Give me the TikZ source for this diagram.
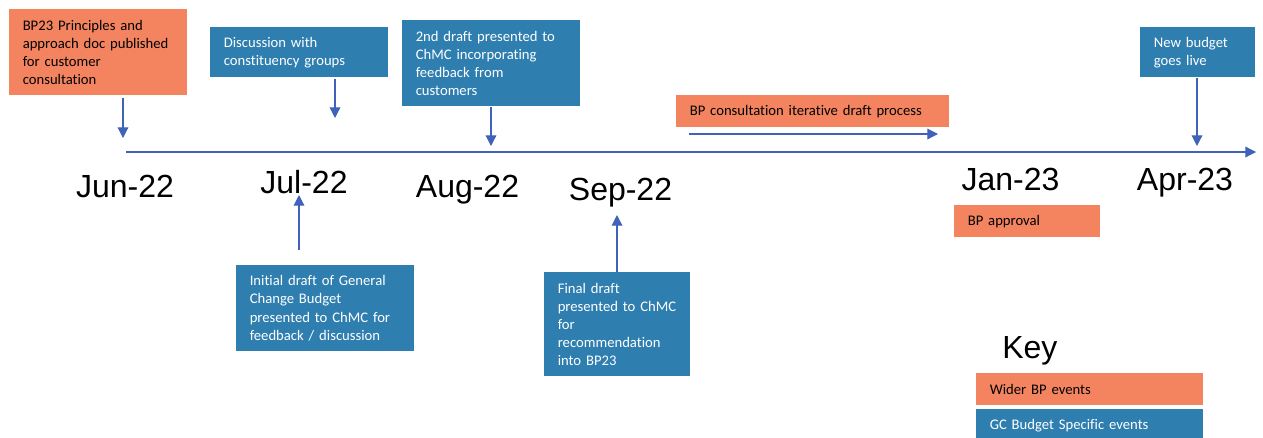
\documentclass[tikz,border=0pt]{standalone}
\usepackage{fontspec}
\setmainfont{Carlito}[Ligatures=CommonOff]
\newfontfamily\arialf{Liberation Sans}
\usetikzlibrary{arrows.meta}
\definecolor{wider}{HTML}{F4845F}
\definecolor{gcblue}{HTML}{2E7EB0}
\definecolor{arrowc}{HTML}{4162B9}
\tikzset{
  evt/.style 2 args={anchor=north west, minimum width=#1, minimum height=#2,
    inner xsep=9.75pt, inner ysep=0pt, align=left, font=\fontsize{11pt}{13.6pt}\selectfont},
  orangebox/.style={fill=wider, text=black},
  bluebox/.style={fill=gcblue, text=white},
  arr/.style={draw=arrowc, line width=0.9pt, -{Triangle[length=8pt,width=8pt]}},
  datelbl/.style={anchor=base, font=\arialf\fontsize{24pt}{28pt}\selectfont, inner sep=0pt},
}
\begin{document}
\begin{tikzpicture}[x=0.75pt, y=-0.75pt]
\useasboundingbox (0,0) rectangle (1263,437);
% timeline
\coordinate (tlstart) at (126,152);
\coordinate (tlend) at (1256,152);
\draw[arr] (tlstart) -- (tlend);
% boxes above
\node[evt={133.5pt}{64.5pt}, orangebox, text width=113.25pt] (bp23) at (9,9)
  {BP23 Principles and\\approach doc published\\for customer\\consultation};
\node[evt={133.5pt}{37.5pt}, bluebox, text width=113.25pt] (disc) at (210,27)
  {Discussion with\\constituency groups};
\node[evt={133.5pt}{64.5pt}, bluebox, text width=113.25pt] (second) at (402,20)
  {2nd draft presented to\\ChMC incorporating\\feedback from\\customers};
\node[evt={204.75pt}{24pt}, orangebox, text width=184.5pt] (cons) at (676,95)
  {BP consultation iterative draft process};
\node[evt={86.25pt}{37.5pt}, bluebox, text width=66pt] (live) at (1140,27)
  {New budget\\goes live};
% boxes below
\node[evt={133.5pt}{64.5pt}, bluebox, text width=113.25pt] (initial) at (236,265)
  {Initial draft of General\\Change Budget\\presented to ChMC for\\feedback / discussion};
\node[evt={109.5pt}{78pt}, bluebox, text width=89.25pt] (final) at (544,272)
  {Final draft\\presented to ChMC\\for\\recommendation\\into BP23};
\node[evt={109.5pt}{24pt}, orangebox, text width=89.25pt] (approval) at (954,205)
  {BP approval};
% dates
\node[datelbl] (jun) at (125,197) {Jun-22};
\node[datelbl] (jul) at (304,193) {Jul-22};
\node[datelbl] (aug) at (467.5,197) {Aug-22};
\node[datelbl] (sep) at (620.5,200) {Sep-22};
\node[datelbl] (jan) at (1010.5,190) {Jan-23};
\node[datelbl] (apr) at (1185,190) {Apr-23};
% key
\node[anchor=base west, font=\arialf\fontsize{24pt}{28pt}\selectfont, inner sep=0pt] (key) at (1002,358) {Key};
\node[evt={170.25pt}{24pt}, orangebox, text width=150pt] (keywider) at (976,373) {Wider BP events};
\node[evt={170.25pt}{24pt}, bluebox, text width=150pt] (keygc) at (976,409) {GC Budget Specific events};
% arrows
\coordinate (e1) at (123,138);
\draw[arr] ([yshift=-2pt]e1 |- bp23.south) -- (e1);
\coordinate (e2) at (335,118);
\draw[arr] ([yshift=-1pt]e2 |- disc.south) -- (e2);
\coordinate (e3) at (491,146);
\draw[arr] (e3 |- second.south) -- (e3);
\coordinate (e4s) at (689,134);
\coordinate (e4) at (938,134);
\draw[arr] (e4s) -- (e4);
\coordinate (e5) at (1197,146);
\draw[arr] (e5 |- live.south) -- (e5);
\coordinate (e6s) at (299,250);
\coordinate (e6) at (299,195);
\draw[arr] (e6s) -- (e6);
\coordinate (e7) at (617,215);
\draw[arr] (e7 |- final.north) -- (e7);
\end{tikzpicture}
\end{document}
